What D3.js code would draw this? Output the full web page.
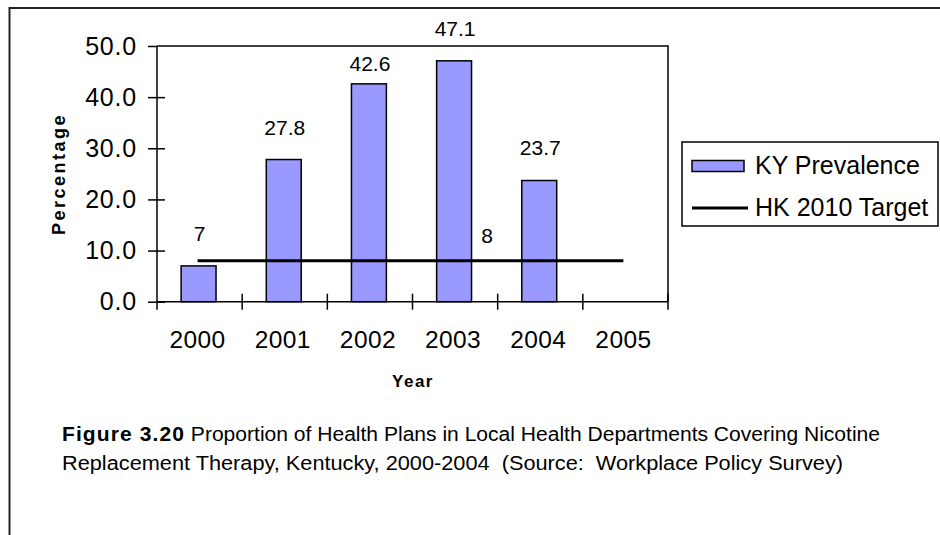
<!DOCTYPE html>
<html>
<head>
<meta charset="utf-8">
<script src="https://cdn.jsdelivr.net/npm/d3@7"></script>
<style>
  body { margin: 0; background: #fff; }
  svg text { font-family: "Liberation Sans", Arial, sans-serif; fill: #000; }
</style>
</head>
<body>
<svg width="940" height="535"></svg>
<script>
// data
var years = ["2000", "2001", "2002", "2003", "2004", "2005"];
var kyPrevalence = [7, 27.8, 42.6, 47.1, 23.7, null];
var hkTarget = [8, 8, 8, 8, 8, 8];
var yTicks = [0, 10, 20, 30, 40, 50];
var seriesNames = ["KY Prevalence", "HK 2010 Target"];

var svg = d3.select("svg");

// outer frame (runs off the right/bottom of the picture)
svg.append("path")
  .attr("d", "M9.5,540V8H945")
  .attr("fill", "none")
  .attr("stroke", "#222")
  .attr("stroke-width", 2);

var plot = { left: 157, top: 46, right: 668, bottom: 301.7 };

var x = d3.scaleBand().domain(years).range([plot.left, plot.right]).padding(0);
var y = d3.scaleLinear().domain([0, 50]).range([plot.bottom, plot.top]);
var barW = x.step() * 0.41;

// plot area border (top + right)
svg.append("path")
  .attr("d", "M" + plot.left + "," + plot.top + "H" + plot.right + "V" + plot.bottom)
  .attr("fill", "none")
  .attr("stroke", "#000")
  .attr("stroke-width", 1.5);

// bars
var bars = years.map(function (yr, i) { return { year: yr, v: kyPrevalence[i] }; })
  .filter(function (d) { return d.v != null; });

svg.selectAll(".bar")
  .data(bars)
  .enter()
  .append("rect")
  .attr("class", "bar")
  .attr("x", function (d) { return x(d.year) + x.bandwidth() / 2 - barW / 2 - 1; })
  .attr("width", barW)
  .attr("y", function (d) { return y(d.v); })
  .attr("height", function (d) { return y(0) - y(d.v); })
  .attr("fill", "#9999ff")
  .attr("stroke", "#000")
  .attr("stroke-width", 1.5);

// bar value labels
var nudge = { "2002": 13 };
svg.selectAll(".blabel")
  .data(bars)
  .enter()
  .append("text")
  .attr("class", "blabel")
  .attr("x", function (d) { return x(d.year) + x.bandwidth() / 2; })
  .attr("y", function (d) { return y(d.v) - (nudge[d.year] || 25); })
  .attr("text-anchor", "middle")
  .style("font-size", "21px")
  .text(function (d) { return d.v; });

// target line
var target = years.map(function (yr, i) { return { year: yr, v: hkTarget[i] }; });
svg.append("path")
  .datum(target)
  .attr("fill", "none")
  .attr("stroke", "#000")
  .attr("stroke-width", 3)
  .attr("d", d3.line()
    .x(function (d) { return x(d.year) + x.bandwidth() / 2 - 2; })
    .y(function (d) { return y(d.v); }));

// single label on the target line
svg.append("text")
  .attr("x", x("2003") + x.bandwidth() / 2 + 32)
  .attr("y", y(hkTarget[3]) - 18)
  .attr("text-anchor", "middle")
  .style("font-size", "21px")
  .text(hkTarget[3]);

// y axis
var yAxisL = d3.axisLeft(y).tickValues(yTicks).tickSize(9).tickPadding(11)
  .tickFormat(d3.format(".1f"));
svg.append("g")
  .attr("class", "yaxis")
  .attr("transform", "translate(" + plot.left + ",0)")
  .call(yAxisL);
svg.append("g")
  .attr("transform", "translate(" + plot.left + ",0)")
  .call(d3.axisRight(y).tickValues(yTicks.slice(0, -1)).tickSize(8).tickFormat(""));
svg.selectAll(".yaxis text").style("font-size", "25px").style("letter-spacing", "0.8px");
svg.selectAll("g .domain").remove();
svg.selectAll("g .tick line").attr("stroke", "#000").attr("stroke-width", 1.5);
svg.append("line")
  .attr("x1", plot.left).attr("x2", plot.left)
  .attr("y1", plot.top).attr("y2", plot.bottom)
  .attr("stroke", "#000").attr("stroke-width", 1.5);

// x axis
svg.append("line")
  .attr("x1", plot.left).attr("x2", plot.right)
  .attr("y1", plot.bottom).attr("y2", plot.bottom)
  .attr("stroke", "#000").attr("stroke-width", 1.5);
var bounds = years.map(function (yr) { return x(yr); }).concat([plot.right]);
svg.selectAll(".xtick")
  .data(bounds.slice(1))
  .enter()
  .append("line")
  .attr("class", "xtick")
  .attr("x1", function (d) { return d; }).attr("x2", function (d) { return d; })
  .attr("y1", plot.bottom - 8).attr("y2", plot.bottom + 8)
  .attr("stroke", "#000").attr("stroke-width", 1.5);
svg.append("line")
  .attr("x1", plot.left).attr("x2", plot.left)
  .attr("y1", plot.bottom).attr("y2", plot.bottom + 8)
  .attr("stroke", "#000").attr("stroke-width", 1.5);
svg.selectAll(".xlabel")
  .data(years)
  .enter()
  .append("text")
  .attr("class", "xlabel")
  .attr("x", function (d) { return x(d) + x.bandwidth() / 2 - 2; })
  .attr("y", plot.bottom + 46)
  .attr("text-anchor", "middle")
  .style("font-size", "24.5px")
  .style("letter-spacing", "0.4px")
  .text(function (d) { return d; });

// axis titles
svg.append("text")
  .attr("x", 413).attr("y", 387)
  .attr("text-anchor", "middle")
  .style("font-size", "17px").style("font-weight", "bold").style("letter-spacing", "1.5px")
  .text("Year");
svg.append("text")
  .attr("transform", "translate(65,174) rotate(-90)")
  .attr("text-anchor", "middle")
  .style("font-size", "18px").style("font-weight", "bold").style("letter-spacing", "2.5px")
  .text("Percentage");

// legend
var lg = svg.append("g").attr("transform", "translate(682,142)");
lg.append("rect").attr("width", 256).attr("height", 84)
  .attr("fill", "#fff").attr("stroke", "#000").attr("stroke-width", 1.5);
lg.append("rect").attr("x", 10).attr("y", 18.5).attr("width", 52).attr("height", 11)
  .attr("fill", "#9999ff").attr("stroke", "#000").attr("stroke-width", 1.5);
lg.append("line").attr("x1", 10).attr("x2", 66).attr("y1", 66).attr("y2", 66)
  .attr("stroke", "#000").attr("stroke-width", 3);
lg.selectAll(".ltext")
  .data(seriesNames)
  .enter()
  .append("text")
  .attr("x", 73)
  .attr("y", function (d, i) { return 32 + i * 42; })
  .style("font-size", "25px")
  .text(function (d) { return d; });

// caption
var cap = svg.append("g").style("font-size", "19.5px");
var l1 = cap.append("text").attr("x", 62).attr("y", 441)
  .attr("textLength", 818).attr("lengthAdjust", "spacingAndGlyphs");
l1.append("tspan").style("font-weight", "bold").style("letter-spacing", "1px").text("Figure 3.20");
l1.append("tspan").text(" Proportion of Health Plans in Local Health Departments Covering Nicotine");
cap.append("text").attr("x", 62).attr("y", 470)
  .attr("textLength", 781).attr("lengthAdjust", "spacingAndGlyphs")
  .attr("xml:space", "preserve")
  .style("white-space", "pre")
  .text("Replacement Therapy, Kentucky, 2000-2004  (Source:  Workplace Policy Survey)");
</script>
</body>
</html>
